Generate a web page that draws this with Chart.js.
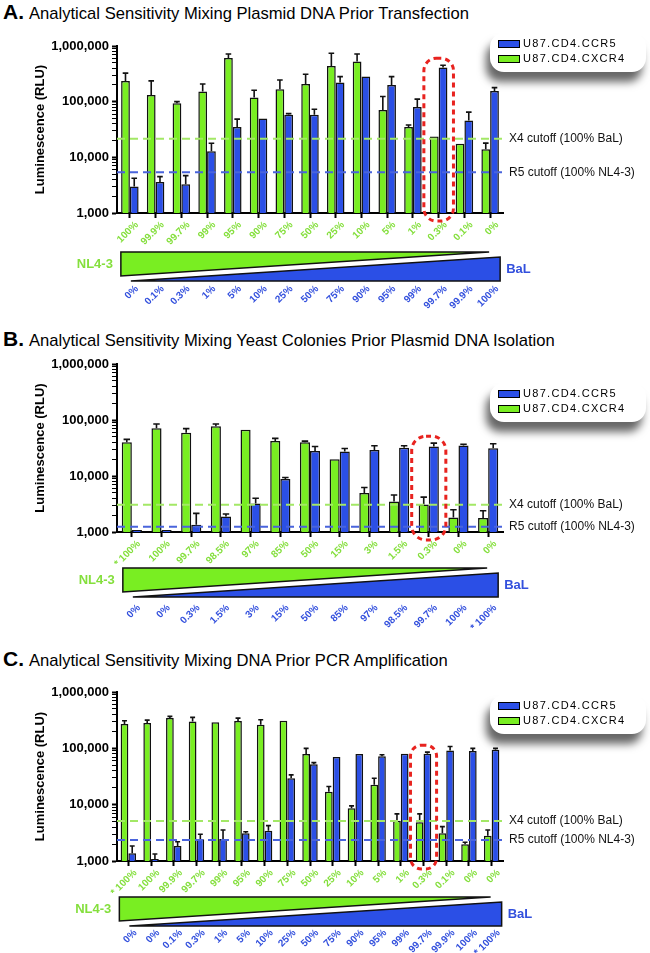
<!DOCTYPE html>
<html>
<head>
<meta charset="utf-8">
<script src="https://cdn.jsdelivr.net/npm/chart.js@4.4.0/dist/chart.umd.min.js"></script>
<style>
  body { margin: 0; width: 650px; height: 953px; overflow: hidden; background: #fff; position: relative;
         font-family: "Liberation Sans", Arial, sans-serif; }
  .ttl { position: absolute; left: 3px; height: 24px; line-height: 24px; font-size: 16.6px; white-space: nowrap; color: #000; }
  .ttl b { font-size: 21px; margin-right: 5px; }
  canvas { position: absolute; left: 0; }
  .lg { position: absolute; left: 490px; width: 156px; height: 39px; padding-top: 3px; box-sizing: border-box;
        background: #fff; border-radius: 14px; box-shadow: -4px 10px 8px rgba(0,0,0,.6); z-index: 2; }
  .lg div { position: relative; font-size: 11px; letter-spacing: 1.3px; height: 15px; line-height: 15px; padding-left: 33px; }
  .lg span { position: absolute; left: 8px; top: 4px; width: 20px; height: 6px; border: 1px solid #000; }
</style>
</head>
<body>
<div class="ttl" style="top:0px"><b>A.</b>Analytical Sensitivity Mixing Plasmid DNA Prior Transfection</div>
<div class="ttl" style="top:327px"><b>B.</b>Analytical Sensitivity Mixing Yeast Colonies Prior Plasmid DNA Isolation</div>
<div class="ttl" style="top:647px"><b>C.</b>Analytical Sensitivity Mixing DNA Prior PCR Amplification</div>

<div class="lg" style="top:33px"><div><span style="background:#2b4fe6"></span>U87.CD4.CCR5</div><div><span style="background:#79ee22"></span>U87.CD4.CXCR4</div></div>
<div class="lg" style="top:383px"><div><span style="background:#2b4fe6"></span>U87.CD4.CCR5</div><div><span style="background:#79ee22"></span>U87.CD4.CXCR4</div></div>
<div class="lg" style="top:695px"><div><span style="background:#2b4fe6"></span>U87.CD4.CCR5</div><div><span style="background:#79ee22"></span>U87.CD4.CXCR4</div></div>

<canvas id="chartA" width="650" height="287" style="top:28px"></canvas>
<canvas id="chartB" width="650" height="288" style="top:346px"></canvas>
<canvas id="chartC" width="650" height="285" style="top:674px"></canvas>

<script>
// y axis
const yTickValues = [1000, 10000, 100000, 1000000];
const yTickLabels = ['1,000', '10,000', '100,000', '1,000,000'];

// A. plasmid DNA mixed before transfection
const aNL43Pct = ['100%', '99.9%', '99.7%', '99%', '95%', '90%', '75%', '50%', '25%', '10%', '5%', '1%', '0.3%', '0.1%', '0%'];
const aBaLPct  = ['0%', '0.1%', '0.3%', '1%', '5%', '10%', '25%', '50%', '75%', '90%', '95%', '99%', '99.7%', '99.9%', '100%'];
const aCXCR4    = [236000, 132000, 94000, 153000, 610000, 119000, 167000, 208000, 438000, 525000, 71000, 35000, 23700, 17500, 14000];
const aCXCR4Err = [325000, 236000, 100000, 208000, 720000, 160000, 245000, 310000, 740000, 720000, 124000, 38000, 24600, 18000, 18000];
const aCCR5     = [3000, 3600, 3300, 12800, 35000, 50000, 58000, 58000, 220000, 282000, 200000, 80000, 409000, 46000, 156000];
const aCCR5Err  = [4200, 4500, 4700, 17900, 48500, 52000, 61000, 73000, 282000, 290000, 282000, 111000, 451000, 65000, 179000];
const aX4Cutoff = 21500, aR5Cutoff = 5400;

// B. yeast colonies mixed before plasmid DNA isolation
const bNL43Pct = ['* 100%', '100%', '99.7%', '98.5%', '97%', '85%', '50%', '15%', '3%', '1.5%', '0.3%', '0%', '0%'];
const bBaLPct  = ['0%', '0%', '0.3%', '1.5%', '3%', '15%', '50%', '85%', '97%', '98.5%', '99.7%', '100%', '* 100%'];
const bCXCR4    = [40000, 71000, 59000, 77000, 67000, 42000, 40000, 20000, 4960, 3500, 3100, 1820, 1780];
const bCXCR4Err = [45000, 85000, 70000, 85000, 69000, 47000, 42000, 20800, 6250, 4570, 4200, 2500, 2400];
const bCCR5     = [1090, 1090, 1350, 1900, 3240, 8800, 28000, 27400, 29000, 32000, 33600, 35000, 31400];
const bCCR5Err  = [1120, 1100, 2150, 2100, 4000, 9400, 33600, 31000, 34600, 34600, 38600, 37000, 37600];
const bX4Cutoff = 3070, bR5Cutoff = 1240;

// C. DNA mixed before PCR amplification
const cNL43Pct = ['* 100%', '100%', '99.9%', '99.7%', '99%', '95%', '90%', '75%', '50%', '25%', '10%', '5%', '1%', '0.3%', '0.1%', '0%', '0%'];
const cBaLPct  = ['0%', '0%', '0.1%', '0.3%', '1%', '5%', '10%', '25%', '50%', '75%', '90%', '95%', '99%', '99.7%', '99.9%', '100%', '* 100%'];
const cCXCR4    = [269000, 281000, 344000, 300000, 289000, 305000, 262000, 309000, 79000, 17000, 8600, 22500, 5200, 4870, 3100, 1980, 2820];
const cCXCR4Err = [309000, 317000, 369000, 354000, 300000, 344000, 322000, 312000, 100000, 21000, 9500, 29500, 6850, 6850, 4080, 2150, 3560];
const cCCR5     = [1370, 1090, 1850, 2430, 2460, 3100, 3460, 29500, 52000, 70000, 79000, 72000, 80000, 80000, 91600, 90000, 94000];
const cCCR5Err  = [1850, 1330, 2200, 2980, 3560, 3300, 4250, 33800, 55700, 72000, 81000, 77000, 82000, 85600, 108000, 100000, 100000];
const cX4Cutoff = 5150, cR5Cutoff = 2360;

const GREEN = '#79ee22', BLUE = '#2b4fe6';
const GREEN_TXT = '#84df3c', BLUE_TXT = '#3350dd';

Chart.defaults.font.family = '"Liberation Sans", Arial, sans-serif';

// error bars, upper whisker only
const errorBars = {
  id: 'errorBars',
  afterDatasetsDraw(chart) {
    const ctx = chart.ctx, y = chart.scales.y;
    ctx.save();
    ctx.strokeStyle = '#111';
    ctx.lineWidth = 1.6;
    chart.data.datasets.forEach((ds, i) => {
      chart.getDatasetMeta(i).data.forEach((bar, j) => {
        const top = y.getPixelForValue(ds.errTop[j]);
        if (bar.y - top < 1) return;
        const w = bar.width * 0.32;
        ctx.beginPath();
        ctx.moveTo(bar.x, bar.y);
        ctx.lineTo(bar.x, top);
        ctx.moveTo(bar.x - w, top);
        ctx.lineTo(bar.x + w, top);
        ctx.stroke();
      });
    });
    ctx.restore();
  }
};

// dashed cutoff lines with their labels
const cutoffs = {
  id: 'cutoffs',
  afterDatasetsDraw(chart, args, o) {
    const ctx = chart.ctx, y = chart.scales.y, a = chart.chartArea;
    const lines = [
      {v: o.x4, c: '#a3e866', t: 'X4 cutoff (100% BaL)'},
      {v: o.r5, c: '#4a64dc', t: 'R5 cutoff (100% NL4-3)'}
    ];
    ctx.save();
    lines.forEach(l => {
      const py = y.getPixelForValue(l.v);
      ctx.strokeStyle = l.c;
      ctx.lineWidth = 2;
      ctx.setLineDash([8, 5]);
      ctx.beginPath();
      ctx.moveTo(a.left, py);
      ctx.lineTo(a.right + 2, py);
      ctx.stroke();
      ctx.setLineDash([]);
      ctx.fillStyle = '#111';
      ctx.font = '12px "Liberation Sans", Arial, sans-serif';
      ctx.textBaseline = 'middle';
      ctx.fillText(l.t, a.right + 6, py);
    });
    ctx.restore();
  }
};

// red dashed outline around the 0.3% sample
const highlight = {
  id: 'highlight',
  afterDatasetsDraw(chart, args, o) {
    const ctx = chart.ctx, x = chart.scales.x, y = chart.scales.y;
    const cx = x.getPixelForValue(o.index);
    const w = (x.getPixelForValue(1) - x.getPixelForValue(0)) * 1.15;
    const topVal = Math.max(...chart.data.datasets.map(d => d.errTop[o.index]));
    const top = y.getPixelForValue(topVal) - 7;
    const bottom = chart.chartArea.bottom + 8;
    ctx.save();
    ctx.strokeStyle = '#e8231f';
    ctx.lineWidth = 3;
    ctx.setLineDash([5, 4]);
    ctx.beginPath();
    ctx.roundRect(cx - w / 2, top, w, bottom - top, w * 0.42);
    ctx.stroke();
    ctx.restore();
  }
};

// NL4-3 / BaL gradient wedges between the two label rows
const wedges = {
  id: 'wedges',
  afterDraw(chart, args, o) {
    const ctx = chart.ctx, x = chart.scales.x;
    const n = chart.data.labels.length;
    const first = x.getPixelForValue(0), last = x.getPixelForValue(n - 1);
    const base = chart.chartArea.bottom + o.top;
    ctx.save();
    ctx.lineWidth = 1.5;
    ctx.strokeStyle = '#111';
    // green
    const gl = first - 9, gr = last - 1;
    ctx.fillStyle = GREEN;
    ctx.beginPath();
    ctx.moveTo(gl, base);
    ctx.lineTo(gr, base);
    ctx.lineTo(gl, base + 24);
    ctx.closePath();
    ctx.fill();
    ctx.stroke();
    // blue
    const bl = first + 1, br = last + 10;
    ctx.fillStyle = BLUE;
    ctx.beginPath();
    ctx.moveTo(bl, base + 29);
    ctx.lineTo(br, base + 29);
    ctx.lineTo(br, base + 5);
    ctx.closePath();
    ctx.fill();
    ctx.stroke();
    ctx.font = 'bold 13px "Liberation Sans", Arial, sans-serif';
    ctx.textBaseline = 'middle';
    ctx.fillStyle = GREEN_TXT;
    ctx.textAlign = 'right';
    ctx.fillText('NL4-3', gl - 8, base + 12);
    ctx.fillStyle = BLUE_TXT;
    ctx.textAlign = 'left';
    ctx.fillText('BaL', br + 6, base + 17);
    ctx.restore();
  }
};

function yTicks() {
  const t = [];
  for (let e = 3; e < 6; e++) {
    for (let s = 1; s < 10; s++) t.push({value: s * Math.pow(10, e)});
  }
  t.push({value: 1e6});
  return t;
}

function makeChart(id, p) {
  return new Chart(document.getElementById(id), {
    type: 'bar',
    data: {
      labels: p.nl43,
      datasets: [
        {label: 'U87.CD4.CXCR4', data: p.cxcr4, errTop: p.cxcr4Err, backgroundColor: GREEN,
         borderColor: '#111', borderWidth: 1.5, categoryPercentage: 0.68, barPercentage: 1},
        {label: 'U87.CD4.CCR5', data: p.ccr5, errTop: p.ccr5Err, backgroundColor: BLUE,
         borderColor: '#111', borderWidth: 1.5, categoryPercentage: 0.68, barPercentage: 1}
      ]
    },
    options: {
      responsive: false,
      animation: false,
      events: [],
      layout: {padding: {left: 33, right: 147, top: 18, bottom: 0}},
      plugins: {
        legend: {display: false},
        tooltip: {enabled: false},
        cutoffs: {x4: p.x4, r5: p.r5},
        highlight: {index: p.mark},
        wedges: {top: p.wedgeTop}
      },
      scales: {
        x: {
          type: 'category', position: 'bottom', offset: true,
          grid: {offset: false, drawOnChartArea: false, tickLength: 5, tickWidth: 2, tickColor: '#000'},
          border: {color: '#000', width: 2},
          ticks: {color: GREEN_TXT, font: {size: 10, weight: 'bold'}, minRotation: 45, maxRotation: 45,
                  padding: 1, labelOffset: 7, autoSkip: false},
          afterFit: s => { s.height = 36; }
        },
        x2: {
          type: 'category', position: 'bottom', offset: true, labels: p.bal,
          grid: {display: false, drawTicks: false},
          border: {display: false},
          ticks: {color: BLUE_TXT, font: {size: 10, weight: 'bold'}, minRotation: 45, maxRotation: 45,
                  padding: p.balPad, labelOffset: 7, autoSkip: false},
          afterFit: s => { s.height = p.balPad + 32; }
        },
        y: {
          type: 'logarithmic', min: 1000, max: 1000000,
          border: {color: '#000', width: 2},
          grid: {drawOnChartArea: false, tickLength: 5, tickColor: '#000',
                 tickWidth: c => yTickValues.includes(c.tick.value) ? 2 : 1},
          afterBuildTicks: s => { s.ticks = yTicks(); },
          ticks: {
            color: '#000', font: {size: 13, weight: 'bold'}, padding: 3, autoSkip: false,
            callback: v => { const i = yTickValues.indexOf(v); return i < 0 ? '' : yTickLabels[i]; }
          },
          title: {display: true, text: 'Luminescence (RLU)', color: '#000', font: {size: 13, weight: 'bold'}, padding: 0},
          afterFit: s => { s.width = 84; }
        }
      }
    },
    plugins: [errorBars, cutoffs, highlight, wedges]
  });
}

makeChart('chartA', {nl43: aNL43Pct, bal: aBaLPct, cxcr4: aCXCR4, cxcr4Err: aCXCR4Err, ccr5: aCCR5, ccr5Err: aCCR5Err,
                     x4: aX4Cutoff, r5: aR5Cutoff, mark: 12, wedgeTop: 39, balPad: 34});
makeChart('chartB', {nl43: bNL43Pct, bal: bBaLPct, cxcr4: bCXCR4, cxcr4Err: bCXCR4Err, ccr5: bCCR5, ccr5Err: bCCR5Err,
                     x4: bX4Cutoff, r5: bR5Cutoff, mark: 10, wedgeTop: 36, balPad: 34});
makeChart('chartC', {nl43: cNL43Pct, bal: cBaLPct, cxcr4: cCXCR4, cxcr4Err: cCXCR4Err, ccr5: cCCR5, ccr5Err: cCCR5Err,
                     x4: cX4Cutoff, r5: cR5Cutoff, mark: 13, wedgeTop: 36, balPad: 30});
</script>
</body>
</html>
